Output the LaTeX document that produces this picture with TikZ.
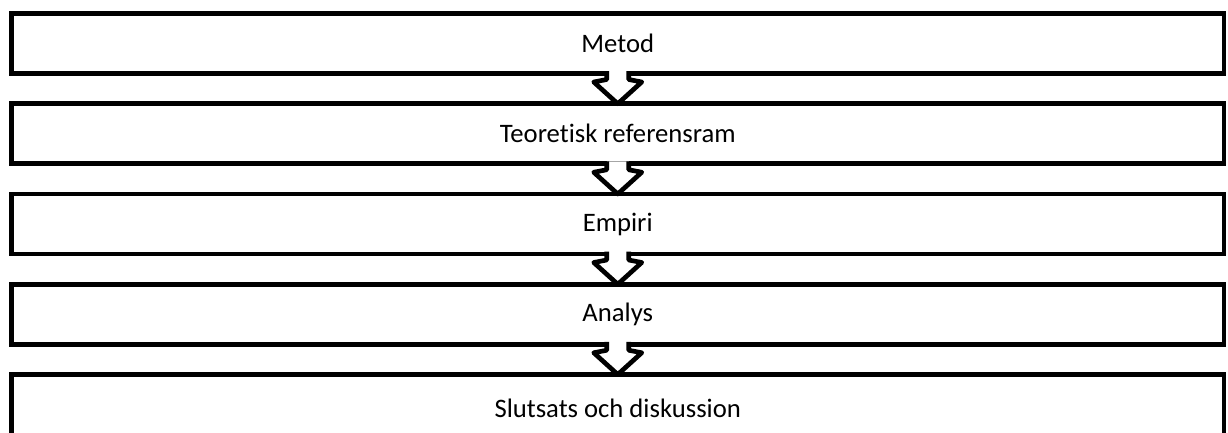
\documentclass[tikz,border=0pt]{standalone}
\usepackage{fontspec}
\setmainfont{Carlito}[Ligatures=NoCommon]
\usetikzlibrary{positioning}

\tikzset{
  stagebox/.style={draw, line width=3.5pt, outer sep=0pt, inner sep=0pt,
    minimum width=909.4pt, minimum height=45pt,
    font=\fontsize{20}{24}\selectfont},
  flowarrow/.style={draw, fill=white, line width=3.5pt, line join=round}
}

\begin{document}
\begin{tikzpicture}[x=0.75pt,y=-0.75pt]
            \clip (0,0) rectangle (1228,432);
            \fill[white] (0,0) rectangle (1228,432);
            \node[stagebox] (s1) at (617.75,43.5) {Metod};
            \node[stagebox,below=30.25*0.75pt of s1] (s2) {Teoretisk referensram};
            \node[stagebox,below=30.25*0.75pt of s2] (s3) {Empiri};
            \node[stagebox,below=30.25*0.75pt of s3] (s4) {Analys};
            \node[stagebox,minimum height=50.5pt,below=30.25*0.75pt of s4] (s5) {Slutsats och diskussion};
            \foreach \a/\b in {s1/s2,s2/s3,s3/s4,s4/s5}
              \path[flowarrow] ([shift={(-11,-2.4)}]\a.south) -- ([shift={(-11,6)}]\a.south)
                -- ([shift={(-24,8.5)}]\a.south) -- (\b.north)
                -- ([shift={(24,8.5)}]\a.south) -- ([shift={(11,6)}]\a.south)
                -- ([shift={(11,-2.4)}]\a.south);
        \end{tikzpicture}
\end{document}
